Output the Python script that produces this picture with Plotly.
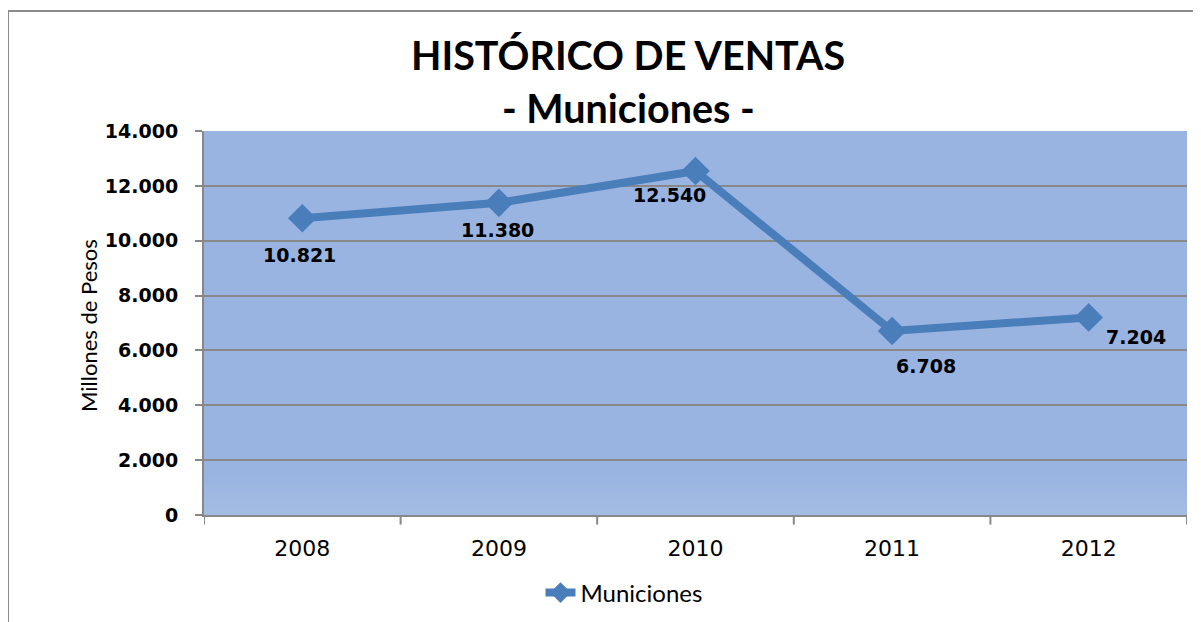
import plotly.graph_objects as go

years = ["2008", "2009", "2010", "2011", "2012"]
ventas = [10821, 11380, 12540, 6708, 7204]
value_labels = ["10.821", "11.380", "12.540", "6.708", "7.204"]
label_offsets = [(-3, -37), (-1, -27), (-26, -24), (34, -35), (47, -20)]
y_ticks = [0, 2000, 4000, 6000, 8000, 10000, 12000, 14000]
y_tick_text = ["0", "2.000", "4.000", "6.000", "8.000", "10.000", "12.000", "14.000"]
title_lines = ["HISTÓRICO DE VENTAS", "- Municiones -"]
y_title = "Millones de Pesos"

LINE = "#4A7EBB"
GRID = "#888888"
OFF = 7  # page offset of the figure (browser body margin)

# target plot area in screen pixels
PL, PR, PT, PB = 203, 1186, 130, 514
PW, PH = PR - PL, PB - PT

x_idx = list(range(len(years)))

fig = go.Figure()
fig.add_trace(go.Scatter(
    x=x_idx, y=ventas, mode="lines+markers", name="Municiones",
    line=dict(color=LINE, width=8),
    marker=dict(symbol="diamond", size=22, color=LINE),
))

for i, (v, t) in enumerate(zip(ventas, value_labels)):
    dx, dy = label_offsets[i]
    fig.add_annotation(x=i, y=v, text="<b>" + t + "</b>", showarrow=False,
                       xshift=dx, yshift=dy,
                       font=dict(family="DejaVu Sans", size=19, color="#000000"))

def px(xs):
    return (xs - PL) / PW

def py(ys):
    return (PB - ys) / PH

for txt, ypx in zip(title_lines, [53, 106]):
    fig.add_annotation(xref="paper", yref="paper", x=px(627), y=py(ypx),
                       xanchor="center", yanchor="middle", showarrow=False,
                       text="<b>" + txt + "</b>",
                       font=dict(family="Lato", size=39.5, color="#000000"))

fig.add_annotation(xref="paper", yref="paper", x=px(87), y=py(325),
                   xanchor="center", yanchor="middle", showarrow=False,
                   text=y_title, textangle=-90,
                   font=dict(family="Lato", size=22, color="#000000"))

fig.update_layout(
    width=1201, height=622,
    margin=dict(l=PL - OFF, r=1201 - (PR - OFF), t=PT - OFF, b=622 - (PB - OFF), autoexpand=False),
    paper_bgcolor="#FFFFFF",
    plot_bgcolor="#9AB4E2",
    showlegend=True,
    legend=dict(orientation="h", x=px(623), xanchor="center",
                y=-(592 - PB) / PH, yanchor="middle",
                font=dict(family="Lato", size=24, color="#000000"),
                bgcolor="rgba(0,0,0,0)"),
    xaxis=dict(range=[-0.5, 4.5], tickvals=x_idx, ticktext=years,
               showgrid=False, zeroline=False, showline=True, automargin=False,
               linecolor=GRID, linewidth=2, ticks="",
               tickfont=dict(family="DejaVu Sans", size=22, color="#000000"),
               ticklabelstandoff=13),
    yaxis=dict(range=[0, 14000], tickvals=y_ticks, ticktext=["<b>" + t + "</b>" for t in y_tick_text],
               showgrid=True, gridcolor=GRID, gridwidth=2, zeroline=False, automargin=False,
               showline=True, linecolor=GRID, linewidth=2,
               ticks="outside", ticklen=7, tickcolor=GRID, tickwidth=2,
               tickfont=dict(family="DejaVu Sans", size=19, color="#000000"),
               ticklabelstandoff=13),
)

# subtle lighter band near the bottom of the plot area
for k in range(8):
    fig.add_shape(type="rect", xref="paper", yref="paper", x0=0, x1=1,
                  y0=0, y1=(8 - k) * 0.012, layer="below", line=dict(width=0),
                  fillcolor="rgba(255,255,255,0.018)")

# category tick marks between categories
for k in range(len(years) + 1):
    fig.add_shape(type="line", xref="x", yref="paper", x0=k - 0.5, x1=k - 0.5,
                  y0=0, y1=-0.025, line=dict(color=GRID, width=2))

# chart frame (left and top edges visible)
fig.add_shape(type="line", xref="paper", yref="paper", x0=px(7), x1=1.1, y0=py(10), y1=py(10),
              line=dict(color="#8C8C8C", width=2))
fig.add_shape(type="line", xref="paper", yref="paper", x0=px(7), x1=px(7), y0=py(10), y1=-0.4,
              line=dict(color="#8C8C8C", width=2))

fig.write_html("out.html")
